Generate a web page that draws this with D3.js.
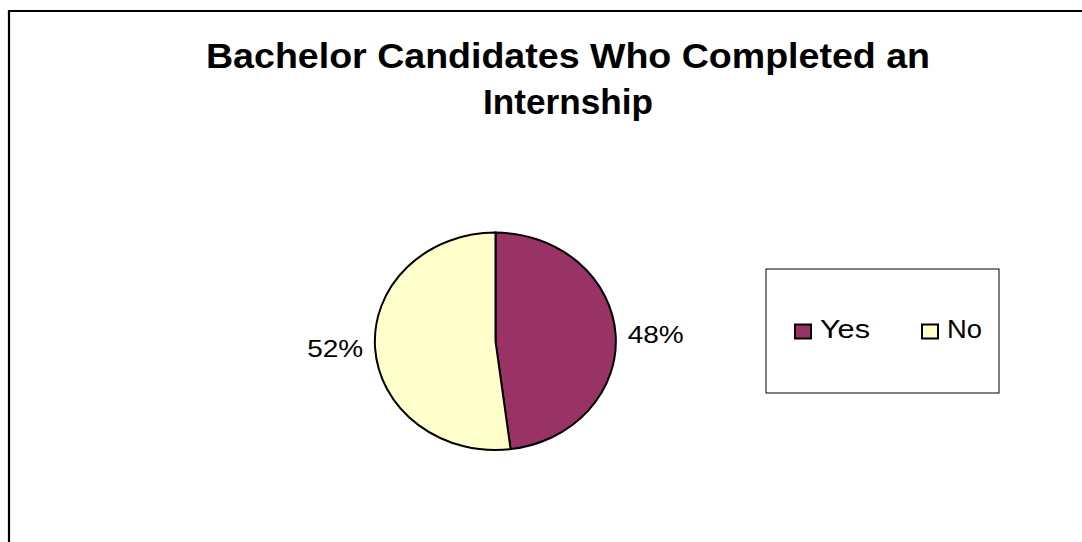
<!DOCTYPE html>
<html>
<head>
<meta charset="utf-8">
<script src="https://cdn.jsdelivr.net/npm/d3@7"></script>
<style>
html,body{margin:0;padding:0;background:#fff;}
svg{display:block;font-family:Arial,"Liberation Sans",sans-serif;}
</style>
</head>
<body>
<svg id="chart" width="1082" height="542"></svg>
<script>
const categories = ["Yes", "No"];
const values = [48, 52];
const labels = ["48%", "52%"];
const colors = ["#993366", "#FFFFCC"];
const titleLines = ["Bachelor Candidates Who Completed an", "Internship"];

const svg = d3.select("#chart");

// outer frame (top and left edges visible, others clipped)
svg.append("path")
  .attr("d", "M9,545 L9,11 L1090,11")
  .attr("fill", "none").attr("stroke", "#000").attr("stroke-width", 2.2);

// title
const titleWidths = [724, 170];
svg.append("g").selectAll("text").data(titleLines).join("text")
  .attr("x", 568)
  .attr("y", (d, i) => 68 + i * 46)
  .attr("text-anchor", "middle")
  .attr("font-weight", "bold")
  .attr("font-size", 35)
  .attr("textLength", (d, i) => titleWidths[i])
  .attr("lengthAdjust", "spacingAndGlyphs")
  .attr("fill", "#000")
  .text(d => d);

// pie (elliptical)
const cx = 495.5, cy = 341.3, rx = 120.5, ry = 108.7;
const pie = d3.pie().sort(null).value(d => d)(values);
const arc = d3.arc().innerRadius(0).outerRadius(1);
const g = svg.append("g").attr("transform", `translate(${cx},${cy}) scale(${rx},${ry})`);
g.selectAll("path").data(pie).join("path")
  .attr("d", arc)
  .attr("fill", (d, i) => colors[i])
  .attr("stroke", "#000")
  .attr("stroke-width", 2)
  .attr("vector-effect", "non-scaling-stroke");

// labels
svg.append("g").selectAll("text").data(pie).join("text")
  .each(function(d, i) {
    const a = (d.startAngle + d.endAngle) / 2;
    const sx = Math.sin(a), cyy = -Math.cos(a);
    const x = cx + (rx + 12) * sx;
    const y = cy + ry * cyy;
    d3.select(this)
      .attr("x", x)
      .attr("y", y + 8.5)
      .attr("text-anchor", sx >= 0 ? "start" : "end");
  })
  .attr("font-size", 24)
  .attr("textLength", 56)
  .attr("lengthAdjust", "spacingAndGlyphs")
  .attr("fill", "#000")
  .text((d, i) => labels[i]);

// legend
const lg = svg.append("g");
lg.append("rect").attr("x", 766).attr("y", 269).attr("width", 233).attr("height", 124)
  .attr("fill", "#fff").attr("stroke", "#000").attr("stroke-width", 1);
const legendTextWidths = [50, 35];
const items = lg.selectAll("g").data(categories).join("g")
  .attr("transform", (d, i) => `translate(${i === 0 ? 795 : 922},324.5)`);
items.append("rect").attr("width", 16).attr("height", 14)
  .attr("fill", (d, i) => colors[i]).attr("stroke", "#000").attr("stroke-width", 2);
items.append("text").attr("x", 25).attr("y", 13.5)
  .attr("font-size", 25)
  .attr("textLength", (d, i) => legendTextWidths[i])
  .attr("lengthAdjust", "spacingAndGlyphs")
  .attr("fill", "#000").text(d => d);
</script>
</body>
</html>
